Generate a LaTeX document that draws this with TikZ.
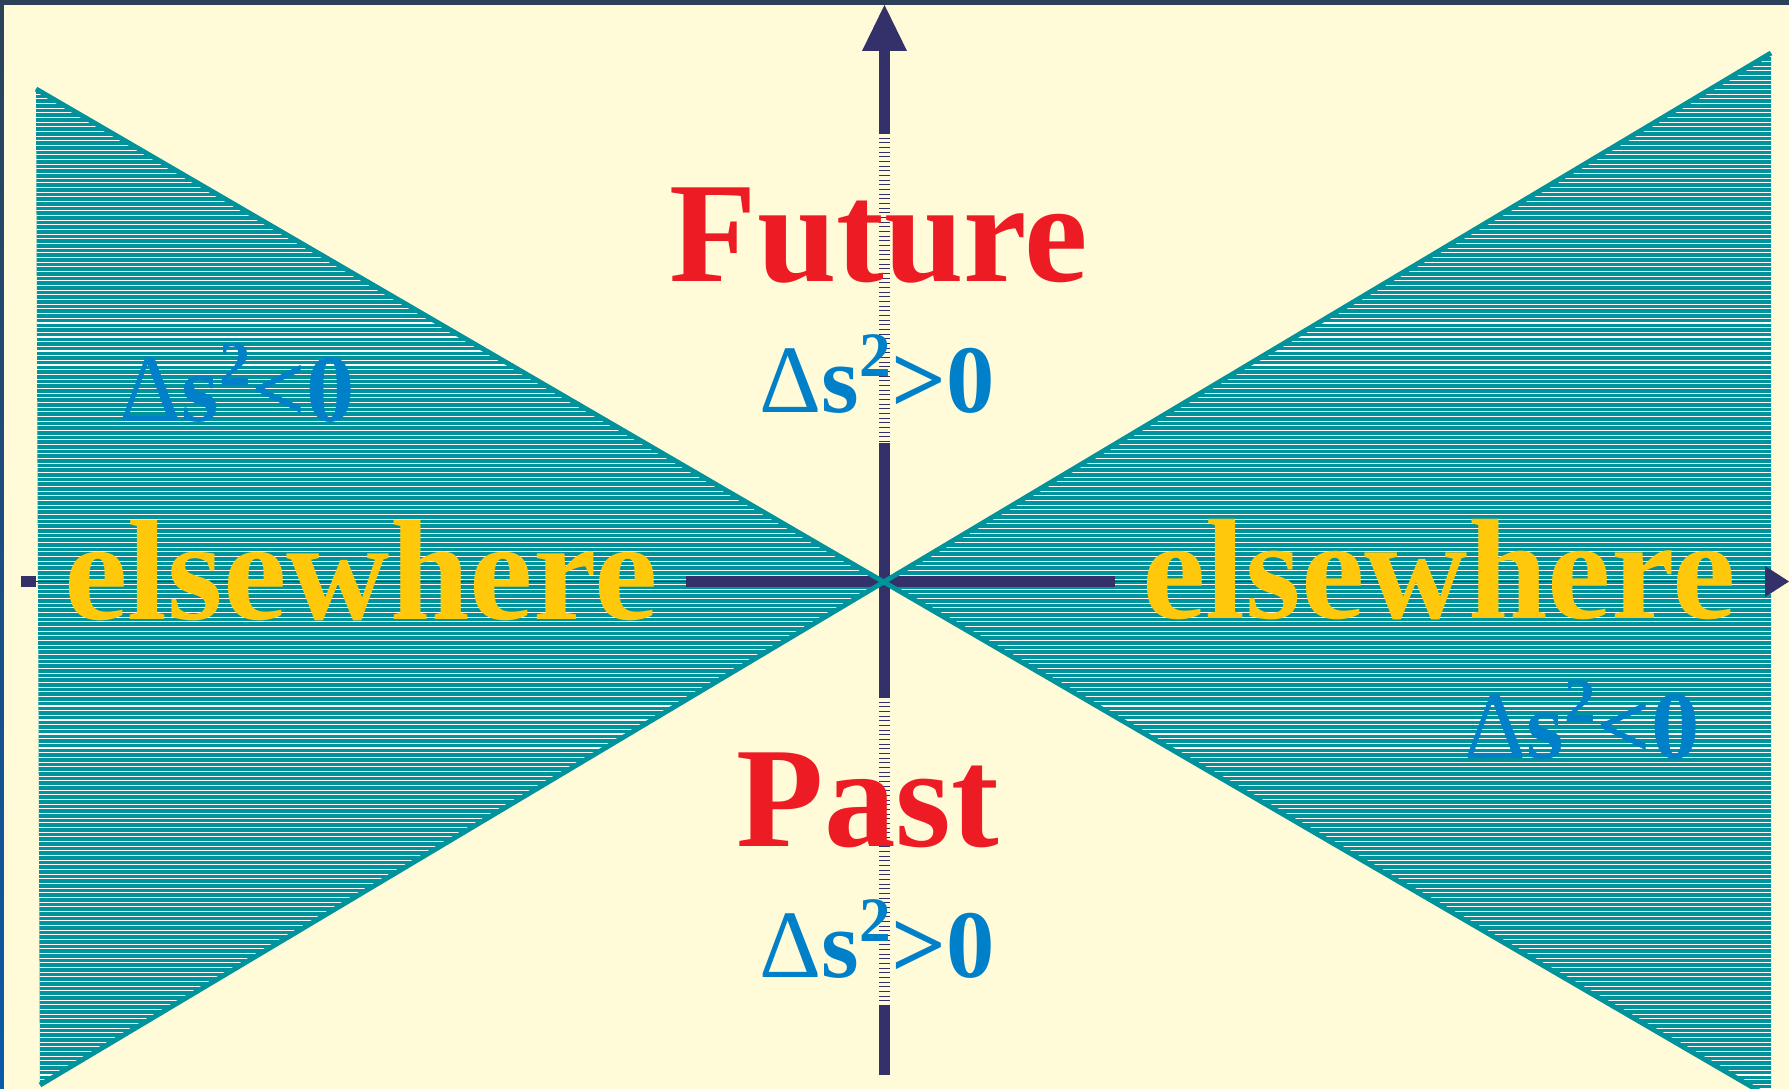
\documentclass[tikz,border=0pt]{standalone}
\usepackage{fontspec}
\setmainfont{Liberation Serif}
\definecolor{cream}{HTML}{FFFAD7}
\definecolor{slate}{HTML}{2C4159}
\definecolor{edgeblue}{HTML}{0A5AA8}
\definecolor{axisnavy}{HTML}{33306A}
\definecolor{coneteal}{HTML}{00939B}
\definecolor{wordred}{HTML}{ED1C24}
\definecolor{wordgold}{HTML}{FFC80A}
\definecolor{intblue}{HTML}{0080C8}
\newcommand{\intervalsq}[1]{{\mdseries Δ}s\raisebox{0.38em}{\fontsize{18}{18}\selectfont 2}{#1}0}
\begin{document}
\begin{tikzpicture}[
  bigword/.style={font=\fontsize{40.7}{41}\selectfont\bfseries,inner sep=0pt,anchor=base},
  sqword/.style={font=\fontsize{27.5}{28}\selectfont\bfseries,text=intblue,inner sep=0pt,anchor=base}]
  \useasboundingbox (0,0) rectangle (17.89,10.89);
  % background and frame
  \fill[cream] (0,0) rectangle (17.89,10.89);
  \fill[slate] (0,10.84) rectangle (17.89,10.89);
  \shade[top color=slate,bottom color=edgeblue] (0,0) rectangle (0.04,10.84);

  \begin{scope}
  \clip (0,0) rectangle (17.89,10.89);

  % elsewhere wedges, hatched
  \begin{scope}
    \clip (0.36,10.00) -- (8.845,5.075) -- (0.40,0.04) -- cycle
          (17.71,10.36) -- (8.845,5.075) -- (17.71,-0.09) -- cycle;
    \fill[coneteal] (0,-0.1) rectangle (17.89,10.89);
    \foreach \i in {0,...,233}
      \draw[white,line width=0.3pt] (0,\i*0.0467) -- (17.89,\i*0.0467);
  \end{scope}

  % x axis
  \draw[axisnavy,line width=0.11cm] (0.21,5.075) -- (0.36,5.075);
  \draw[axisnavy,line width=0.5pt] (0.36,5.075) -- (6.86,5.075);
  \draw[axisnavy,line width=0.11cm] (6.86,5.075) -- (11.15,5.075);
  \draw[axisnavy,line width=0.5pt] (11.15,5.075) -- (17.70,5.075);
  \fill[axisnavy] (17.65,5.23) -- (17.89,5.075) -- (17.65,4.92) -- cycle;

  % t axis
  \draw[axisnavy,line width=0.11cm] (8.845,10.40) -- (8.845,9.56);
  \draw[axisnavy,line width=0.11cm,dash pattern=on 0.01cm off 0.0367cm] (8.845,9.56) -- (8.845,6.46);
  \draw[axisnavy,line width=0.11cm] (8.845,6.46) -- (8.845,3.92);
  \draw[axisnavy,line width=0.11cm,dash pattern=on 0.01cm off 0.0367cm] (8.845,3.92) -- (8.845,0.83);
  \draw[axisnavy,line width=0.11cm] (8.845,0.83) -- (8.845,0.14);
  \fill[axisnavy] (8.62,10.38) -- (8.845,10.84) -- (9.07,10.38) -- cycle;

  % light cone
  \draw[coneteal,line width=1.4pt] (0.36,10.00) -- (17.71,-0.09);
  \draw[coneteal,line width=1.4pt] (17.71,10.36) -- (0.40,0.04);
  \end{scope}

  % labels
  \node[bigword,text=wordred] (future) at (8.79,8.07) {Future};
  \node[sqword] (futureint) at (8.77,6.76) {\intervalsq{>}};
  \node[bigword,text=wordred] (past) at (8.68,2.42) {Past};
  \node[sqword] (pastint) at (8.77,1.11) {\intervalsq{>}};
  \node[sqword] (leftint) at (2.37,6.67) {\intervalsq{<}};
  \node[sqword] (rightint) at (15.82,3.30) {\intervalsq{<}};
  \node[bigword,text=wordgold] (leftelse) at (3.61,4.69) {elsewhere};
  \node[bigword,text=wordgold] (rightelse) at (14.39,4.70) {elsewhere};
\end{tikzpicture}
\end{document}
